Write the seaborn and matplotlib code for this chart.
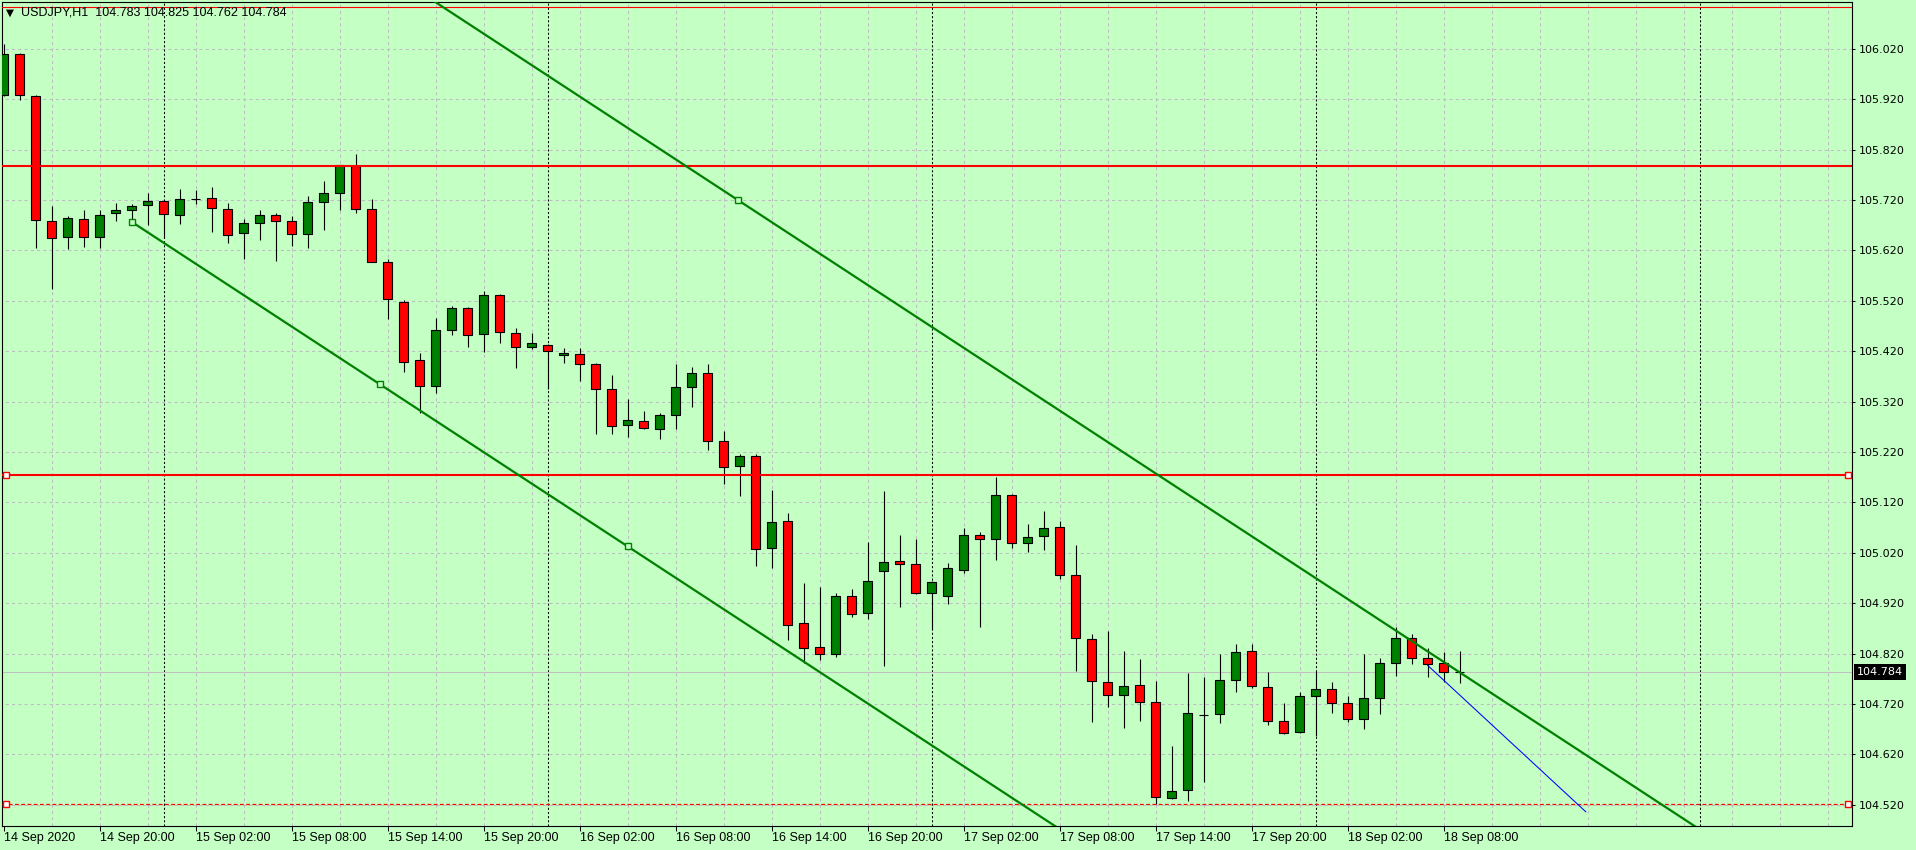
import numpy as np
import matplotlib
matplotlib.use("Agg")
import matplotlib.pyplot as plt
import matplotlib.transforms as mtransforms
import seaborn as sns

# USDJPY H1 bars, 14 Sep 14:00 .. 18 Sep 09:00
opens = [105.928, 106.009, 105.927, 105.679, 105.646, 105.683, 105.647, 105.695, 105.701, 105.711,
         105.719, 105.691, 105.722, 105.725, 105.703, 105.654, 105.675, 105.691, 105.679, 105.652,
         105.717, 105.735, 105.787, 105.703, 105.597, 105.518, 105.403, 105.352, 105.462, 105.506,
         105.454, 105.532, 105.456, 105.429, 105.433, 105.413, 105.415, 105.395, 105.345, 105.274,
         105.282, 105.266, 105.294, 105.349, 105.377, 105.242, 105.193, 105.212, 105.030, 105.083,
         104.880, 104.834, 104.820, 104.935, 104.901, 104.983, 105.003, 104.997, 104.941, 104.935,
         104.985, 105.056, 105.048, 105.135, 105.040, 105.053, 105.072, 104.977, 104.850, 104.763,
         104.737, 104.757, 104.725, 104.533, 104.549, 104.699, 104.701, 104.767, 104.826, 104.753,
         104.687, 104.664, 104.735, 104.749, 104.723, 104.691, 104.731, 104.801, 104.852, 104.812,
         104.801, 104.783]
highs = [106.029, 106.012, 105.928, 105.708, 105.688, 105.700, 105.700, 105.714, 105.712, 105.735,
         105.720, 105.741, 105.739, 105.745, 105.715, 105.682, 105.700, 105.695, 105.689, 105.728,
         105.757, 105.790, 105.811, 105.722, 105.603, 105.521, 105.417, 105.485, 105.510, 105.507,
         105.539, 105.534, 105.467, 105.456, 105.434, 105.427, 105.427, 105.397, 105.372, 105.326,
         105.302, 105.297, 105.394, 105.388, 105.395, 105.261, 105.217, 105.217, 105.144, 105.100,
         104.960, 104.953, 104.941, 104.948, 105.041, 105.142, 105.055, 105.047, 104.965, 104.999,
         105.070, 105.062, 105.171, 105.136, 105.077, 105.103, 105.083, 105.035, 104.859, 104.865,
         104.826, 104.810, 104.765, 104.637, 104.781, 104.773, 104.820, 104.840, 104.840, 104.783,
         104.723, 104.743, 104.785, 104.763, 104.735, 104.820, 104.811, 104.872, 104.859, 104.832,
         104.824, 104.825]
lows = [105.926, 105.918, 105.625, 105.543, 105.623, 105.627, 105.625, 105.679, 105.682, 105.671,
        105.645, 105.673, 105.713, 105.656, 105.634, 105.603, 105.641, 105.600, 105.629, 105.625,
        105.661, 105.700, 105.695, 105.597, 105.484, 105.378, 105.297, 105.337, 105.452, 105.428,
        105.418, 105.437, 105.386, 105.425, 105.346, 105.396, 105.360, 105.255, 105.255, 105.249,
        105.265, 105.245, 105.265, 105.310, 105.225, 105.157, 105.133, 104.994, 104.990, 104.847,
        104.801, 104.807, 104.814, 104.893, 104.889, 104.796, 104.913, 104.938, 104.869, 104.919,
        104.981, 104.872, 105.005, 105.030, 105.022, 105.026, 104.968, 104.785, 104.685, 104.715,
        104.673, 104.687, 104.521, 104.531, 104.527, 104.566, 104.683, 104.743, 104.752, 104.679,
        104.660, 104.662, 104.656, 104.703, 104.685, 104.671, 104.701, 104.775, 104.799, 104.773,
        104.763, 104.762]
closes = [106.009, 105.928, 105.681, 105.644, 105.685, 105.647, 105.691, 105.701, 105.709, 105.719,
          105.693, 105.723, 105.722, 105.705, 105.650, 105.675, 105.691, 105.679, 105.652, 105.717,
          105.735, 105.789, 105.703, 105.598, 105.524, 105.399, 105.352, 105.462, 105.506, 105.452,
          105.532, 105.458, 105.429, 105.437, 105.420, 105.417, 105.395, 105.345, 105.272, 105.283,
          105.268, 105.293, 105.349, 105.377, 105.242, 105.191, 105.212, 105.028, 105.081, 104.877,
          104.832, 104.820, 104.935, 104.899, 104.965, 105.001, 104.997, 104.941, 104.963, 104.989,
          105.056, 105.048, 105.135, 105.040, 105.052, 105.070, 104.977, 104.852, 104.765, 104.737,
          104.755, 104.725, 104.535, 104.547, 104.703, 104.699, 104.767, 104.824, 104.755, 104.687,
          104.662, 104.735, 104.749, 104.723, 104.691, 104.731, 104.801, 104.852, 104.812, 104.799,
          104.783, 104.784]

tick_bars = [0, 6, 12, 18, 24, 30, 36, 42, 48, 54, 60, 66, 72, 78, 84, 90]
tick_labels = ["14 Sep 2020", "14 Sep 20:00", "15 Sep 02:00", "15 Sep 08:00", "15 Sep 14:00",
               "15 Sep 20:00", "16 Sep 02:00", "16 Sep 08:00", "16 Sep 14:00", "16 Sep 20:00",
               "17 Sep 02:00", "17 Sep 08:00", "17 Sep 14:00", "17 Sep 20:00", "18 Sep 02:00",
               "18 Sep 08:00"]
day_separators = [10, 34, 58, 82, 106]
price_ticks = [104.52, 104.62, 104.72, 104.82, 104.92, 105.02, 105.12, 105.22,
               105.32, 105.42, 105.52, 105.62, 105.72, 105.82, 105.92, 106.02]

# objects drawn on the chart
red_levels = [105.787, 105.175]
top_level = 106.103
dashed_level = 104.521
bid = 104.784
lower_channel_x = [8, 39]
lower_channel_y = [105.677, 105.033]
upper_anchor_x, upper_anchor_y = 45.9, 105.720
channel_marks_x = [8, 23.5, 39]
blue_x = [89, 98.9]
blue_y = [104.797, 104.506]

BG = "#c4ffc4"
GREEN = "#008000"
RED = "#ff0000"
GRID = "#c0bcc4"

sns.set_theme(style="ticks", rc={"axes.facecolor": BG, "figure.facecolor": BG})
plt.rcParams["font.family"] = ["DejaVu Sans"]

fig = plt.figure(figsize=(19.16, 8.5), dpi=100)
ax = fig.add_axes([2 / 1916, 24 / 850, 1850 / 1916, 824 / 850])
ax.set_xlim(-0.094, 115.53)
ax.set_ylim(104.478, 106.113)

# grid
ax.vlines(np.arange(3, 116, 3), 104.478, 106.113, colors=GRID, lw=0.75,
          linestyles=(0, (3, 3)), zorder=1)
ax.hlines(price_ticks, -1, 120, colors=GRID, lw=0.75, linestyles=(0, (3, 3)), zorder=1)
ax.vlines(day_separators, 104.478, 106.113, colors="black", lw=0.75,
          linestyles=(0, (2, 2)), zorder=1.5)

# candles
o = np.array(opens)
c = np.array(closes)
idx = np.arange(len(o))
body_col = np.where(c >= o, GREEN, RED)
ax.vlines(idx, lows, highs, colors="black", lw=0.8, zorder=3)
ax.bar(idx, np.abs(c - o), bottom=np.minimum(o, c), width=0.62, color=body_col,
       edgecolor="black", linewidth=0.8, zorder=4)

# horizontal levels
edge = mtransforms.blended_transform_factory(ax.transAxes, ax.transData)
ax.axhline(top_level, color=RED, lw=0.8, zorder=5)
for lv in red_levels:
    ax.axhline(lv, color=RED, lw=1.5, zorder=5)
ax.axhline(dashed_level, color=RED, lw=0.9, ls=(0, (3, 2)), zorder=5)
ax.axhline(bid, color="#c0c0c0", lw=0.75, zorder=2)
for lv in [red_levels[1], dashed_level]:
    ax.plot([0.002, 0.998], [lv, lv], transform=edge, ls="none", marker="s", ms=4,
            mfc="white", mec=RED, mew=1, zorder=6, clip_on=False)

# channel
slope = (lower_channel_y[1] - lower_channel_y[0]) / (lower_channel_x[1] - lower_channel_x[0])
xs = np.array([lower_channel_x[0], 130])
ax.plot(xs, lower_channel_y[0] + slope * (xs - lower_channel_x[0]), color=GREEN, lw=1.6, zorder=6)
ax.plot(xs, upper_anchor_y + slope * (xs - upper_anchor_x), color=GREEN, lw=1.6, zorder=6)
mx = np.array(channel_marks_x)
ax.plot(mx, lower_channel_y[0] + slope * (mx - lower_channel_x[0]), ls="none", marker="s",
        ms=4, mfc=BG, mec=GREEN, mew=1, zorder=7)
ax.plot([upper_anchor_x], [upper_anchor_y], ls="none", marker="s", ms=4, mfc=BG,
        mec=GREEN, mew=1, zorder=7)
ax.plot(blue_x, blue_y, color="#0000ff", lw=0.75, zorder=6)

# axes
for s in ax.spines.values():
    s.set_color("black")
    s.set_linewidth(0.8)
ax.yaxis.tick_right()
ax.set_yticks(price_ticks)
ax.set_yticklabels([f"{p:.3f}" for p in price_ticks])
ax.set_xticks(tick_bars)
ax.set_xticklabels(tick_labels, ha="left", fontfamily="Liberation Sans", fontsize=9)
ax.tick_params(axis="y", direction="out", length=2.5, width=0.75, pad=2.4, labelsize=8,
               colors="black")
ax.tick_params(axis="x", direction="out", length=3.5, width=0.75, pad=1, colors="black")

ax.text(1.0027, bid, f"{bid:.3f}", transform=edge, ha="left", va="center", color="white",
        fontsize=8, zorder=8, clip_on=False,
        bbox=dict(boxstyle="square,pad=0.25", fc="black", ec="none"))

fig.text(6 / 1916, 1 - 12.5 / 850, "\u25bc", fontsize=7.5, va="center", ha="left", color="black")
fig.text(21 / 1916, 1 - 12.5 / 850,
         f"USDJPY,H1  {opens[-1]:.3f} {highs[-1]:.3f} {lows[-1]:.3f} {closes[-1]:.3f}",
         fontsize=9, fontfamily="Liberation Sans", va="center", ha="left", color="black")

fig.savefig("out.png", dpi=100, facecolor=BG)
